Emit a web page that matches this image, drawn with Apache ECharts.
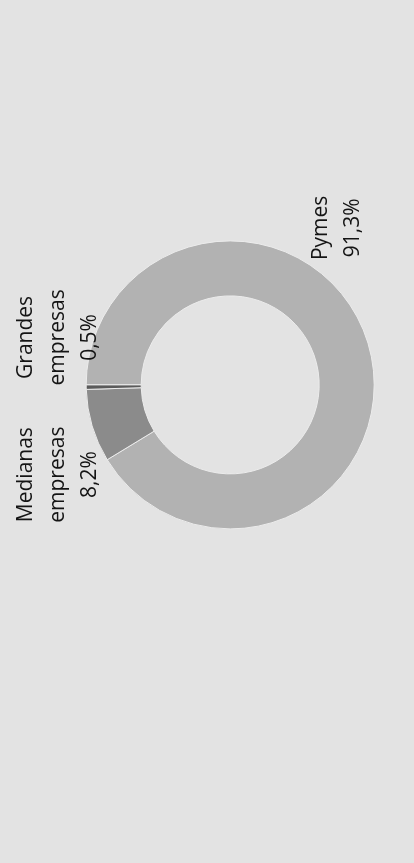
<!DOCTYPE html>
<html>
<head>
<meta charset="utf-8">
<script src="https://cdn.jsdelivr.net/npm/echarts@6/dist/echarts.min.js"></script>
<style>
html,body{margin:0;padding:0;background:#e3e3e3;}
#chart{width:414px;height:863px;}
</style>
</head>
<body>
<div id="chart"></div>
<script>
var categories = ['Pymes', 'Medianas\nempresas', 'Grandes\nempresas'];
var values = [91.3, 8.2, 0.5];
var colors = ['#b2b2b2', '#8b8b8b', '#5a5a5a'];
// label anchor positions as fractions of chart size
var labelAnchors = [[0.814, 0.264], [0.140, 0.550], [0.140, 0.391]];

var chart = echarts.init(document.getElementById('chart'));
var data = categories.map(function (c, i) {
  return { name: c, value: values[i], itemStyle: { color: colors[i] } };
});
chart.setOption({
  backgroundColor: '#e3e3e3',
  animation: false,
  series: [{
    type: 'pie',
    center: ['55.6%', '44.6%'],
    radius: [89, 144],
    startAngle: 180,
    clockwise: true,
    data: data,
    itemStyle: { borderColor: '#ececec', borderWidth: 1 },
    label: {
      show: true,
      position: 'outside',
      rotate: 90,
      color: '#141414',
      fontFamily: 'Open Sans',
      fontSize: 21,
      lineHeight: 32,
      align: 'center',
      formatter: function (p) {
        return p.name + '\n' + p.value.toFixed(1).replace('.', ',') + '%';
      }
    },
    labelLine: { show: false },
    labelLayout: function (params) {
      var a = labelAnchors[params.dataIndex];
      return {
        x: a[0] * chart.getWidth(),
        y: a[1] * chart.getHeight(),
        rotate: 90,
        align: 'center',
        verticalAlign: 'middle'
      };
    }
  }]
});
</script>
</body>
</html>
